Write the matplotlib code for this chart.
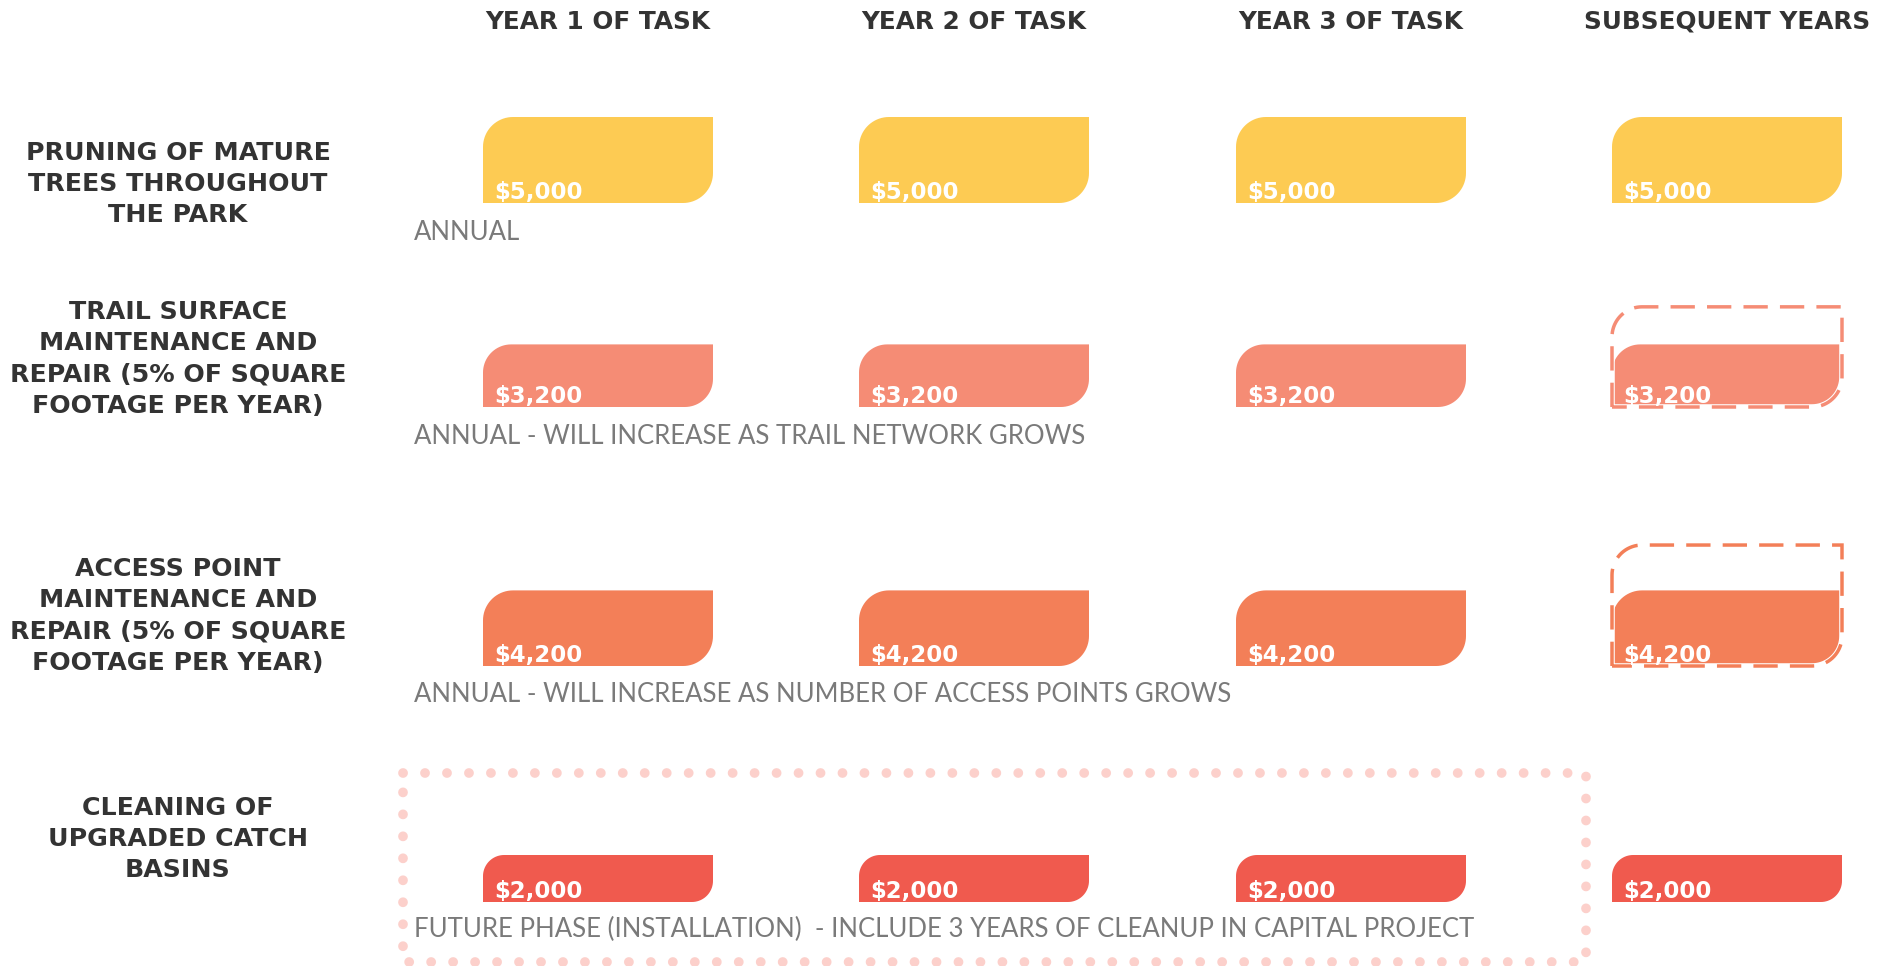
import numpy as np
import matplotlib
matplotlib.use("Agg")
import matplotlib.pyplot as plt
from matplotlib.path import Path
from matplotlib.patches import PathPatch

# column headers and task rows
years = ["YEAR 1 OF TASK", "YEAR 2 OF TASK", "YEAR 3 OF TASK", "SUBSEQUENT YEARS"]
tasks = [
    "PRUNING OF MATURE\nTREES THROUGHOUT\nTHE PARK",
    "TRAIL SURFACE\nMAINTENANCE AND\nREPAIR (5% OF SQUARE\nFOOTAGE PER YEAR)",
    "ACCESS POINT\nMAINTENANCE AND\nREPAIR (5% OF SQUARE\nFOOTAGE PER YEAR)",
    "CLEANING OF\nUPGRADED CATCH\nBASINS",
]
notes = [
    "ANNUAL",
    "ANNUAL - WILL INCREASE AS TRAIL NETWORK GROWS",
    "ANNUAL - WILL INCREASE AS NUMBER OF ACCESS POINTS GROWS",
    "FUTURE PHASE (INSTALLATION)  - INCLUDE 3 YEARS OF CLEANUP IN CAPITAL PROJECT",
]
# yearly cost per task (one value per column)
costs = [
    [5000, 5000, 5000, 5000],
    [3200, 3200, 3200, 3200],
    [4200, 4200, 4200, 4200],
    [2000, 2000, 2000, 2000],
]
# rows expected to grow in subsequent years
growing = [False, True, True, False]
colors = ["#FDCB53", "#F58C75", "#F37F58", "#F05A4E"]

W, H = 1898, 966
fig = plt.figure(figsize=(W / 100, H / 100), dpi=100)
ax = fig.add_axes([0, 0, 1, 1])
ax.set_xlim(0, W)
ax.set_ylim(H, 0)
ax.axis("off")

DARK = "#333333"
GREY = "#7a7a7a"
FONT = "DejaVu Sans"

col_left = [483, 859, 1236, 1612]
bar_w = 230
row_bottom = [203, 407, 666, 902]
label_y = [184, 359, 616, 839]
note_y = [233, 436, 694, 929]


def bar_height(v):
    # pixel height of a cost bar
    return 21 + v * 0.013


def leaf(x0, y_bottom, w, h, r):
    # rectangle with rounded top-left and bottom-right corners
    r = min(r, h * 0.45)
    top = y_bottom - h
    pts = [(x0, y_bottom), (x0, top + r)]
    t = np.linspace(np.pi, 1.5 * np.pi, 20)
    pts += list(zip(x0 + r + r * np.cos(t), top + r + r * np.sin(t)))
    pts += [(x0 + w, top), (x0 + w, y_bottom - r)]
    t = np.linspace(0, 0.5 * np.pi, 20)
    pts += list(zip(x0 + w - r + r * np.cos(t), y_bottom - r + r * np.sin(t)))
    pts += [(x0, y_bottom)]
    return Path(pts, closed=True)


# column headers
for x, name in zip(col_left, years):
    ax.text(x + bar_w / 2, 22, name, ha="center", va="center",
            fontsize=17.8, fontweight="bold", color=DARK, family=FONT)

for i, task in enumerate(tasks):
    ax.text(178, label_y[i], task, ha="center", va="center", fontsize=18.2,
            fontweight="bold", color=DARK, family=FONT, linespacing=1.39)
    ax.text(414, note_y[i], notes[i], ha="left", va="center", fontsize=18.5,
            color=GREY, family="Lato")
    for j, v in enumerate(costs[i]):
        h = bar_height(v)
        x0 = col_left[j]
        ax.add_patch(PathPatch(leaf(x0, row_bottom[i], bar_w, h, 30),
                               facecolor=colors[i], edgecolor="none"))
        ax.text(x0 + 11, row_bottom[i] + 1, f"${v:,}", ha="left", va="bottom",
                fontsize=16.5, fontweight="bold", color="white", family=FONT)
    if growing[i]:
        # dashed outline for the expected increase
        x0 = col_left[-1]
        h = bar_height(costs[i][-1]) * 1.6
        p = leaf(x0, row_bottom[i], bar_w, h, 30)
        ax.add_patch(PathPatch(p, facecolor="none", edgecolor="white", lw=4))
        ax.add_patch(PathPatch(p, facecolor="none", edgecolor=colors[i], lw=2.5,
                               linestyle=(0, (7, 3.5))))

# dotted frame around the capital-project years
bx0, bx1, by0, by1 = 403, 1586, 773, 962
ax.plot([bx0, bx1, bx1, bx0, bx0], [by0, by0, by1, by1, by0], color="#FCD0CB",
        lw=7, linestyle=(0, (0.01, 2.25)), dash_capstyle="round",
        solid_joinstyle="round")

fig.savefig("out.png", dpi=100)
